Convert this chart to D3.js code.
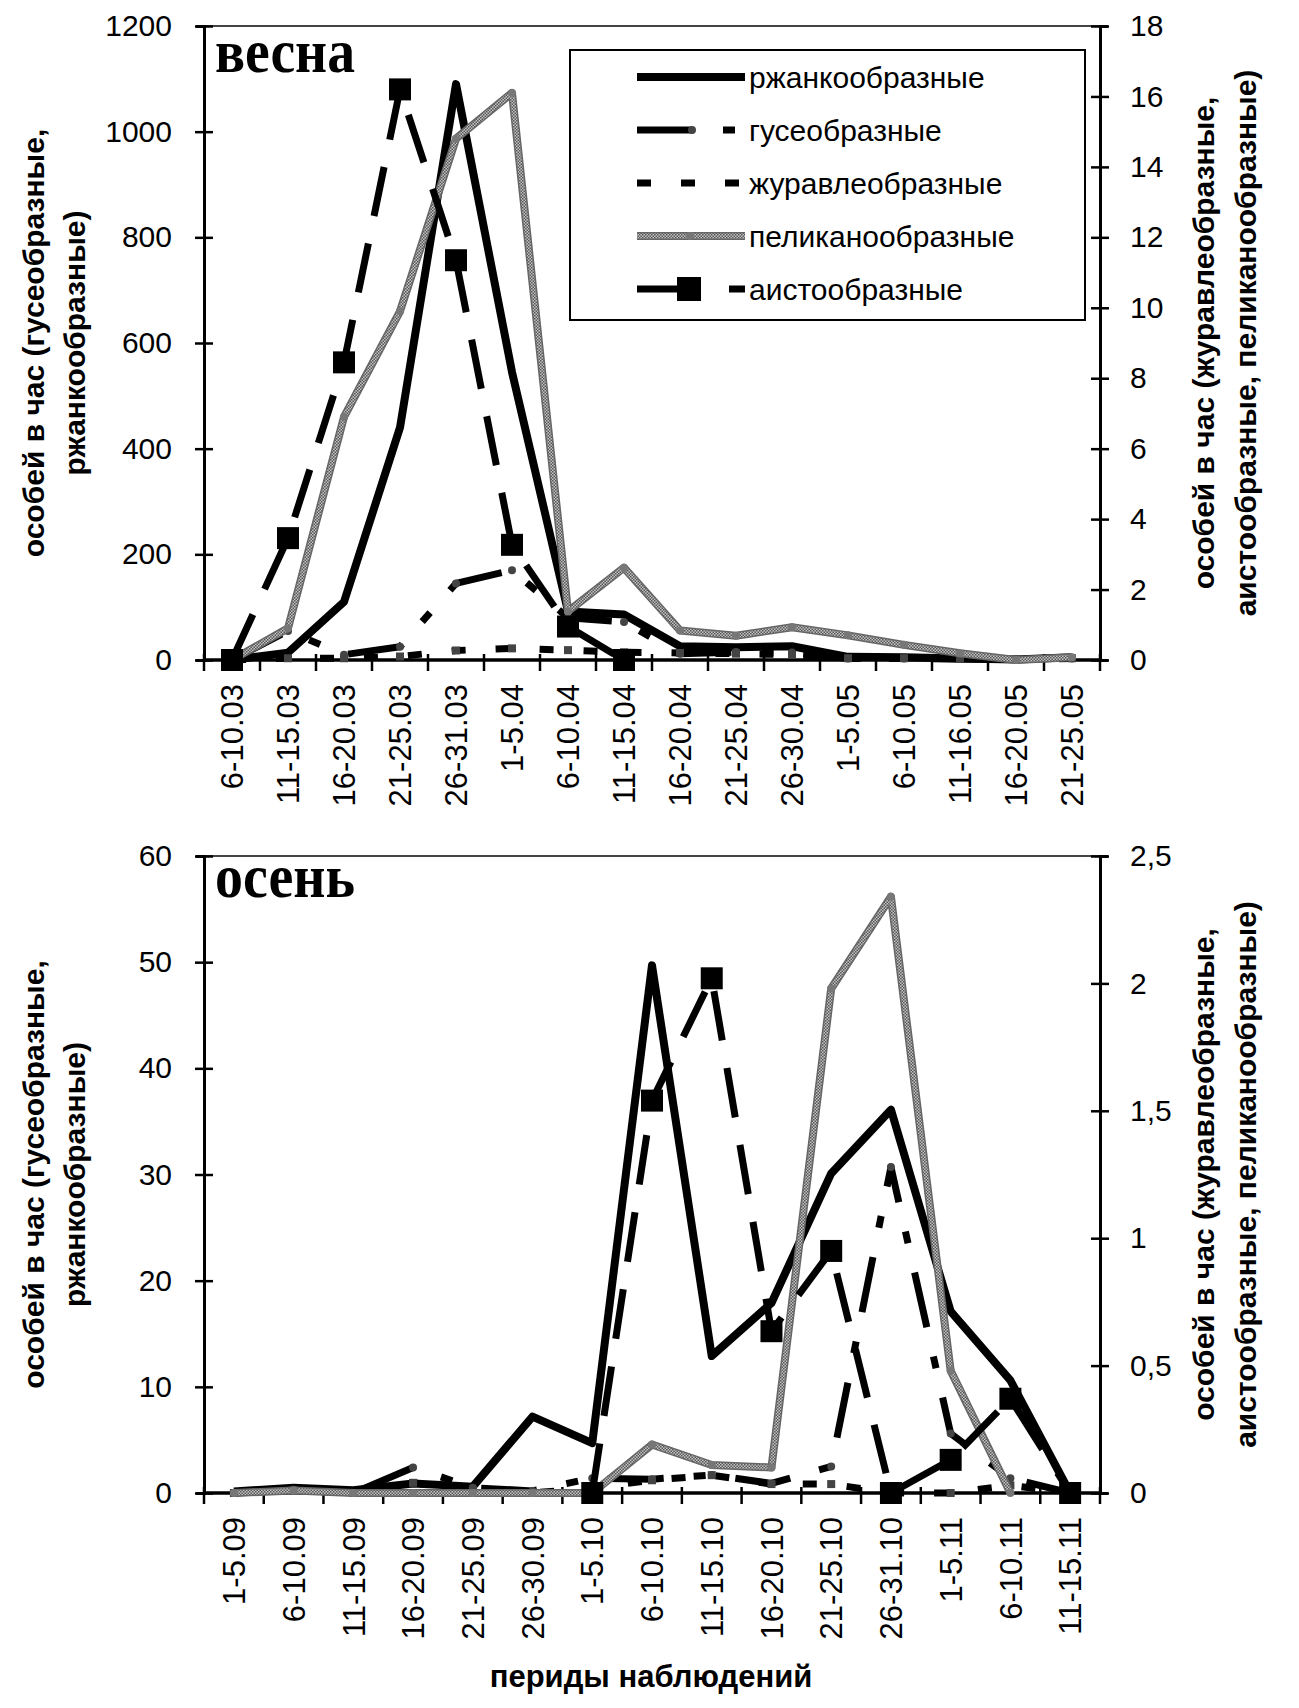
<!DOCTYPE html>
<html>
<head>
<meta charset="utf-8">
<script src="https://cdnjs.cloudflare.com/ajax/libs/d3/7.8.5/d3.min.js"></script>
<style>
  body { margin: 0; background: #fff; }
  text { font-family: "Liberation Sans", Arial, sans-serif; fill: #000; }
</style>
</head>
<body>
<svg></svg>
<script>
// spring observation periods
var springCats = ['6-10.03', '11-15.03', '16-20.03', '21-25.03', '26-31.03', '1-5.04', '6-10.04', '11-15.04',
  '16-20.04', '21-25.04', '26-30.04', '1-5.05', '6-10.05', '11-16.05', '16-20.05', '21-25.05'];
// left axis (гусеобразные, ржанкообразные)
var springPlover = [0, 14, 110, 440, 1090, 545, 92, 86, 26, 24, 26, 6, 5, 3, 1, 5];
var springGoose = [0, 55, 10, 25, 145, 170, 80, 72, 12, 15, 14, 3, 3, 2, 1, 3];
// right axis (журавлеобразные, аистообразные, пеликанообразные)
var springCrane = [0, 0.05, 0.05, 0.1, 0.27, 0.33, 0.28, 0.22, 0.2, 0.18, 0.15, 0.05, 0.05, 0.05, 0.02, 0.05];
var springPelican = [0, 0.9, 6.9, 9.9, 14.8, 16.1, 1.38, 2.62, 0.84, 0.69, 0.93, 0.7, 0.43, 0.19, 0, 0.08];
var springStork = [0, 3.46, 8.45, 16.2, 11.35, 3.27, 0.95, 0, null, null, null, null, null, null, null, null];

// autumn observation periods
var autumnCats = ['1-5.09', '6-10.09', '11-15.09', '16-20.09', '21-25.09', '26-30.09', '1-5.10', '6-10.10',
  '11-15.10', '16-20.10', '21-25.10', '26-31.10', '1-5.11', '6-10.11', '11-15.11'];
var autumnPlover = [0.15, 0.5, 0.25, 0.9, 0.6, 7.2, 4.7, 49.7, 12.9, 17.9, 30.1, 36.1, 17.1, 10.6, 0];
var autumnGoose = [0, 0.3, 0, 2.4, 0.5, 0.2, 1.4, 1.3, 1.7, 0.9, 2.5, 30.7, 5.6, 1.4, 0];
var autumnCrane = [0, 0.01, 0, 0.04, 0.01, 0, 0.02, 0.05, 0.07, 0.035, 0.035, 0, 0, 0.03, 0];
var autumnPelican = [0, 0.01, 0, 0, 0, 0, 0, 0.19, 0.11, 0.1, 1.98, 2.34, 0.48, 0, null];
var autumnStork = [null, null, null, null, null, null, 0, 1.54, 2.02, 0.635, 0.95, 0, 0.13, 0.37, 0];

var springLeftTicks = [0, 200, 400, 600, 800, 1000, 1200];
var springRightTicks = [0, 2, 4, 6, 8, 10, 12, 14, 16, 18];
var autumnLeftTicks = [0, 10, 20, 30, 40, 50, 60];
var autumnRightTicks = [0, 0.5, 1, 1.5, 2, 2.5];

var seriesNames = ['ржанкообразные', 'гусеобразные', 'журавлеобразные', 'пеликанообразные', 'аистообразные'];

var svg = d3.select('svg')
    .attr('width', 1299)
    .attr('height', 1708)
    .style('background-color', '#fff');

var defs = svg.append('defs');
var pat = defs.append('pattern')
    .attr('id', 'dith')
    .attr('width', 3).attr('height', 3)
    .attr('patternUnits', 'userSpaceOnUse');
pat.append('rect').attr('width', 3).attr('height', 3).attr('fill', '#c4c4c4');
pat.append('rect').attr('width', 1.5).attr('height', 1.5).attr('fill', '#555');
pat.append('rect').attr('x', 1.5).attr('y', 1.5).attr('width', 1.5).attr('height', 1.5).attr('fill', '#555');

var styles = {
  plover: { dash: null, width: 8 },
  goose: { dash: '56,30,12,30', width: 7 },
  crane: { dash: '14,30', width: 7 },
  stork: { dash: '50,28', width: 7 }
};

var xLeft = 204, xRight = 1100;

function panel(p) {
  var g = svg.append('g');
  var x = d3.scaleBand().domain(p.cats).range([xLeft, xRight]);
  var yL = d3.scaleLinear().domain([0, p.leftTicks[p.leftTicks.length - 1]]).range([p.y1, p.y0]);
  var yR = d3.scaleLinear().domain([0, p.rightTicks[p.rightTicks.length - 1]]).range([p.y1, p.y0]);
  var cx = function (i) { return x(p.cats[i]) + x.bandwidth() / 2; };

  // top frame line
  g.append('line')
      .attr('x1', xLeft).attr('x2', xRight)
      .attr('y1', p.y0).attr('y2', p.y0)
      .attr('stroke', '#444').attr('stroke-width', 2);

  // left axis
  var gl = g.append('g')
      .attr('transform', 'translate(' + xLeft + ',0)')
      .call(d3.axisLeft(yL).tickValues(p.leftTicks).tickSize(8).tickPadding(24).tickFormat(d3.format('d')));
  gl.select('.domain').attr('stroke', '#000').attr('stroke-width', 3);
  gl.selectAll('.tick line').attr('x1', -9).attr('x2', 9).attr('stroke-width', 2.5);
  gl.selectAll('.tick text').style('font-size', '30px');

  // right axis
  var gr = g.append('g')
      .attr('transform', 'translate(' + xRight + ',0)')
      .call(d3.axisRight(yR).tickValues(p.rightTicks).tickSize(8).tickPadding(22)
        .tickFormat(function (d) { return String(d).replace('.', ','); }));
  gr.select('.domain').attr('stroke', '#000').attr('stroke-width', 3);
  gr.selectAll('.tick line').attr('x1', -9).attr('x2', 9).attr('stroke-width', 2.5);
  gr.selectAll('.tick text').style('font-size', '30px');

  // category axis
  g.append('line')
      .attr('x1', xLeft).attr('x2', xRight)
      .attr('y1', p.y1).attr('y2', p.y1)
      .attr('stroke', '#000').attr('stroke-width', 3.5);
  g.selectAll('.xtick')
      .data(p.cats.concat(['end']))
      .enter().append('line')
      .attr('x1', function (d, i) { return xLeft + i * x.step(); })
      .attr('x2', function (d, i) { return xLeft + i * x.step(); })
      .attr('y1', p.y1 - 6).attr('y2', p.y1 + 11)
      .attr('stroke', '#000').attr('stroke-width', 2.5);
  g.selectAll('.xlab')
      .data(p.cats)
      .enter().append('text')
      .attr('transform', function (d, i) { return 'translate(' + cx(i) + ',' + (p.y1 + 24) + ') rotate(-90)'; })
      .attr('dy', '0.36em')
      .attr('text-anchor', 'end')
      .style('font-size', '31px')
      .text(function (d) { return d; });

  // axis titles
  var mid = (p.y0 + p.y1) / 2;
  [['особей в час (гусеобразные,', 44], ['ржанкообразные)', 85]].forEach(function (t) {
    g.append('text')
        .attr('transform', 'translate(' + t[1] + ',' + mid + ') rotate(-90)')
        .attr('text-anchor', 'middle')
        .style('font-size', '30px').style('font-weight', 'bold')
        .text(t[0]);
  });
  [['особей в час (журавлеобразные,', 1214], ['аистообразные, пеликанообразные)', 1256]].forEach(function (t) {
    g.append('text')
        .attr('transform', 'translate(' + t[1] + ',' + mid + ') rotate(-90)')
        .attr('text-anchor', 'middle')
        .style('font-size', '30px').style('font-weight', 'bold')
        .text(t[0]);
  });

  // season label
  g.append('text')
      .attr('x', 215).attr('y', p.labelY)
      .attr('textLength', 140).attr('lengthAdjust', 'spacingAndGlyphs')
      .style('font-family', '"Liberation Serif", "Times New Roman", serif')
      .style('font-weight', 'bold').style('font-size', '62px')
      .text(p.label);

  // series
  var data = [
    { key: 'plover', v: p.plover, y: yL },
    { key: 'goose', v: p.goose, y: yL },
    { key: 'crane', v: p.crane, y: yR },
    { key: 'pelican', v: p.pelican, y: yR },
    { key: 'stork', v: p.stork, y: yR }
  ];
  data.forEach(function (s) {
    var line = d3.line()
        .defined(function (d) { return d != null; })
        .x(function (d, i) { return cx(i); })
        .y(function (d) { return s.y(d); });
    var pts = s.v.map(function (d, i) { return { i: i, v: d }; }).filter(function (d) { return d.v != null; });
    if (s.key === 'pelican') {
      g.append('path').attr('d', line(s.v)).attr('fill', 'none')
          .attr('stroke', '#666').attr('stroke-width', 8).attr('stroke-linejoin', 'round');
      g.append('path').attr('d', line(s.v)).attr('fill', 'none')
          .attr('stroke', 'url(#dith)').attr('stroke-width', 5).attr('stroke-linejoin', 'round');
      g.selectAll(null).data(pts).enter().append('circle')
          .attr('cx', function (d) { return cx(d.i); })
          .attr('cy', function (d) { return s.y(d.v); })
          .attr('r', 4).attr('fill', '#777');
      return;
    }
    var st = styles[s.key];
    g.append('path').attr('d', line(s.v)).attr('fill', 'none')
        .attr('stroke', '#000').attr('stroke-width', st.width)
        .attr('stroke-linejoin', 'round')
        .attr('stroke-dasharray', st.dash);
    if (s.key === 'stork') {
      g.selectAll(null).data(pts).enter().append('rect')
          .attr('x', function (d) { return cx(d.i) - 11; })
          .attr('y', function (d) { return s.y(d.v) - 11; })
          .attr('width', 22).attr('height', 22).attr('fill', '#000');
    } else if (s.key === 'goose') {
      g.selectAll(null).data(pts).enter().append('circle')
          .attr('cx', function (d) { return cx(d.i); })
          .attr('cy', function (d) { return s.y(d.v); })
          .attr('r', 4).attr('fill', '#444');
    } else if (s.key === 'crane') {
      g.selectAll(null).data(pts).enter().append('rect')
          .attr('x', function (d) { return cx(d.i) - 4; })
          .attr('y', function (d) { return s.y(d.v) - 4; })
          .attr('width', 8).attr('height', 8).attr('fill', '#444');
    }
  });
  return g;
}

panel({ y0: 26, y1: 660, cats: springCats, leftTicks: springLeftTicks, rightTicks: springRightTicks,
  plover: springPlover, goose: springGoose, crane: springCrane, pelican: springPelican, stork: springStork,
  label: 'весна', labelY: 72 });

panel({ y0: 856, y1: 1493, cats: autumnCats, leftTicks: autumnLeftTicks, rightTicks: autumnRightTicks,
  plover: autumnPlover, goose: autumnGoose, crane: autumnCrane, pelican: autumnPelican, stork: autumnStork,
  label: 'осень', labelY: 897 });

// legend
var lg = svg.append('g');
lg.append('rect')
    .attr('x', 570).attr('y', 50).attr('width', 515).attr('height', 270)
    .attr('fill', '#fff').attr('stroke', '#000').attr('stroke-width', 2);
var keys = ['plover', 'goose', 'crane', 'pelican', 'stork'];
var ly = d3.scalePoint().domain(keys).range([77, 289]);
keys.forEach(function (k, i) {
  var y = ly(k);
  if (k === 'pelican') {
    lg.append('line').attr('x1', 637).attr('x2', 745).attr('y1', y).attr('y2', y)
        .attr('stroke', '#666').attr('stroke-width', 8);
    lg.append('line').attr('x1', 637).attr('x2', 745).attr('y1', y).attr('y2', y)
        .attr('stroke', 'url(#dith)').attr('stroke-width', 5);
    lg.append('circle').attr('cx', 690).attr('cy', y).attr('r', 4).attr('fill', '#777');
  } else {
    var st = styles[k];
    lg.append('line').attr('x1', 637).attr('x2', 745).attr('y1', y).attr('y2', y)
        .attr('stroke', '#000').attr('stroke-width', st.width)
        .attr('stroke-dasharray', k === 'stork' ? '64,28' : st.dash);
    if (k === 'stork') {
      lg.append('rect').attr('x', 677).attr('y', y - 12).attr('width', 24).attr('height', 24).attr('fill', '#000');
    } else if (k === 'goose') {
      lg.append('circle').attr('cx', 692).attr('cy', y).attr('r', 4).attr('fill', '#444');
    }
  }
  lg.append('text')
      .attr('x', 749).attr('y', y).attr('dy', '0.36em')
      .style('font-size', '30px')
      .text(seriesNames[i]);
});

// category axis title
svg.append('text')
    .attr('x', 651).attr('y', 1687)
    .attr('text-anchor', 'middle')
    .style('font-size', '31px').style('font-weight', 'bold')
    .text('периды наблюдений');
</script>
</body>
</html>
